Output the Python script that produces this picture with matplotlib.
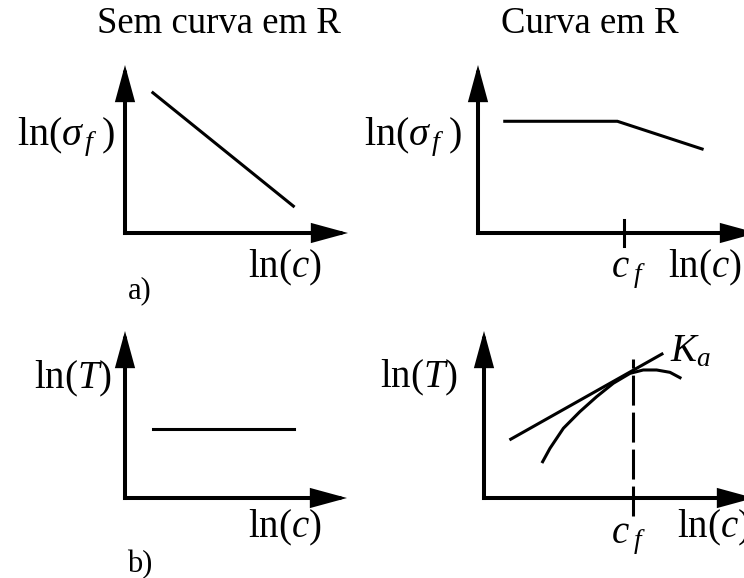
import matplotlib
matplotlib.use("Agg")
import matplotlib.pyplot as plt

plt.rcParams["font.family"] = ["Liberation Serif", "DejaVu Serif"]
plt.rcParams["mathtext.fontset"] = "custom"
plt.rcParams["mathtext.rm"] = "Liberation Serif"
plt.rcParams["mathtext.it"] = "Liberation Serif:italic"

W, H = 744, 578
PX_X, PX_Y = 22.3, 16.8  # pixels per unit along ln(c) and along the vertical axes

# a) strength vs crack length, no R-curve
strength_flat_x = [1.25, 7.55]
strength_flat_y = [8.35, 1.6]
# a) strength vs crack length, with R-curve
strength_r_x = [1.2, 6.25, 10.05]
strength_r_y = [6.65, 6.65, 5.0]
cf_top = 6.55
# b) toughness, no R-curve
tough_flat_x = [1.25, 7.6]
tough_flat_y = [4.1, 4.1]
# b) toughness, with R-curve: tangent K_a and the R-curve itself
tangent_x = [1.2, 7.98]
tangent_y = [3.5, 8.57]
rcurve_x = [2.63, 2.96, 3.56, 4.30, 5.05, 5.80, 6.55, 7.14, 7.74, 8.34, 8.79]
rcurve_y = [2.16, 2.96, 4.15, 5.14, 6.03, 6.83, 7.42, 7.62, 7.62, 7.48, 7.16]
cf_bottom = 6.67

fig = plt.figure(figsize=(W / 100, H / 100), dpi=100)

AX_LW = 2.9
LINE_LW = 2.2


def panel(ox, oy, xlen, ylen):
    # axes whose origin sits at pixel (ox, oy), arrows xlen/ylen pixels long
    ax = fig.add_axes([ox / W, 1 - oy / H, xlen / W, ylen / H])
    ax.set_xlim(0, xlen / PX_X)
    ax.set_ylim(0, ylen / PX_Y)
    ax.axis("off")
    props = dict(arrowstyle="-|>,head_length=0.55,head_width=0.15", lw=AX_LW,
                 color="black", mutation_scale=36, shrinkA=0, shrinkB=0,
                 capstyle="projecting", joinstyle="miter")
    for tip in [(1, 0), (0, 1)]:
        ax.annotate("", xy=tip, xytext=(0, 0), xycoords="axes fraction",
                    textcoords="axes fraction", arrowprops=props,
                    annotation_clip=False)
    return ax


def label(x, y, s, ha="left", size=28):
    fig.text(x / W, 1 - y / H, s, ha=ha, va="baseline", fontsize=size)


ax1 = panel(125, 233, 223, 168)
ax1.plot(strength_flat_x, strength_flat_y, color="black", lw=LINE_LW)

ax2 = panel(478, 233, 279, 168)
ax2.plot(strength_r_x, strength_r_y, color="black", lw=LINE_LW,
         solid_joinstyle="miter")
ax2.plot([cf_top, cf_top], [-0.77, 0.77], color="black", lw=LINE_LW,
         clip_on=False)

ax3 = panel(125, 498, 222, 167)
ax3.plot(tough_flat_x, tough_flat_y, color="black", lw=LINE_LW)

ax4 = panel(484, 498, 270, 167)
ax4.plot(tangent_x, tangent_y, color="black", lw=LINE_LW)
ax4.plot(rcurve_x, rcurve_y, color="black", lw=LINE_LW)
ax4.plot([cf_bottom, cf_bottom], [-1.07, 8.3], color="black", lw=LINE_LW,
         linestyle=(0, (9.8, 2.3)), clip_on=False)

sigma_label = r"$\mathrm{ln}(\sigma_{\,f}\;)$"
cf_label = r"$c_{\;f}$"

label(219, 33, "Sem curva em R", ha="center", size=26.5)
label(590, 33, "Curva em R", ha="center", size=26.5)

label(115, 145, sigma_label, ha="right", size=29)
label(462, 145, sigma_label, ha="right", size=29)
label(322, 277, r"$\mathrm{ln}(c)$", ha="right")
label(742, 277, r"$\mathrm{ln}(c)$", ha="right")
label(611, 277, cf_label)
label(128, 298, "a)", size=22)

label(112, 388, r"$\mathrm{ln}(T)$", ha="right")
label(380, 387, r"$\mathrm{ln}(T)$")
label(670, 361, r"$K_a$")
label(322, 537, r"$\mathrm{ln}(c)$", ha="right")
label(677, 537, r"$\mathrm{ln}(c)$")
label(611, 543, cf_label)
label(127, 572, "b)", size=22)

fig.savefig("out.png", dpi=100)
